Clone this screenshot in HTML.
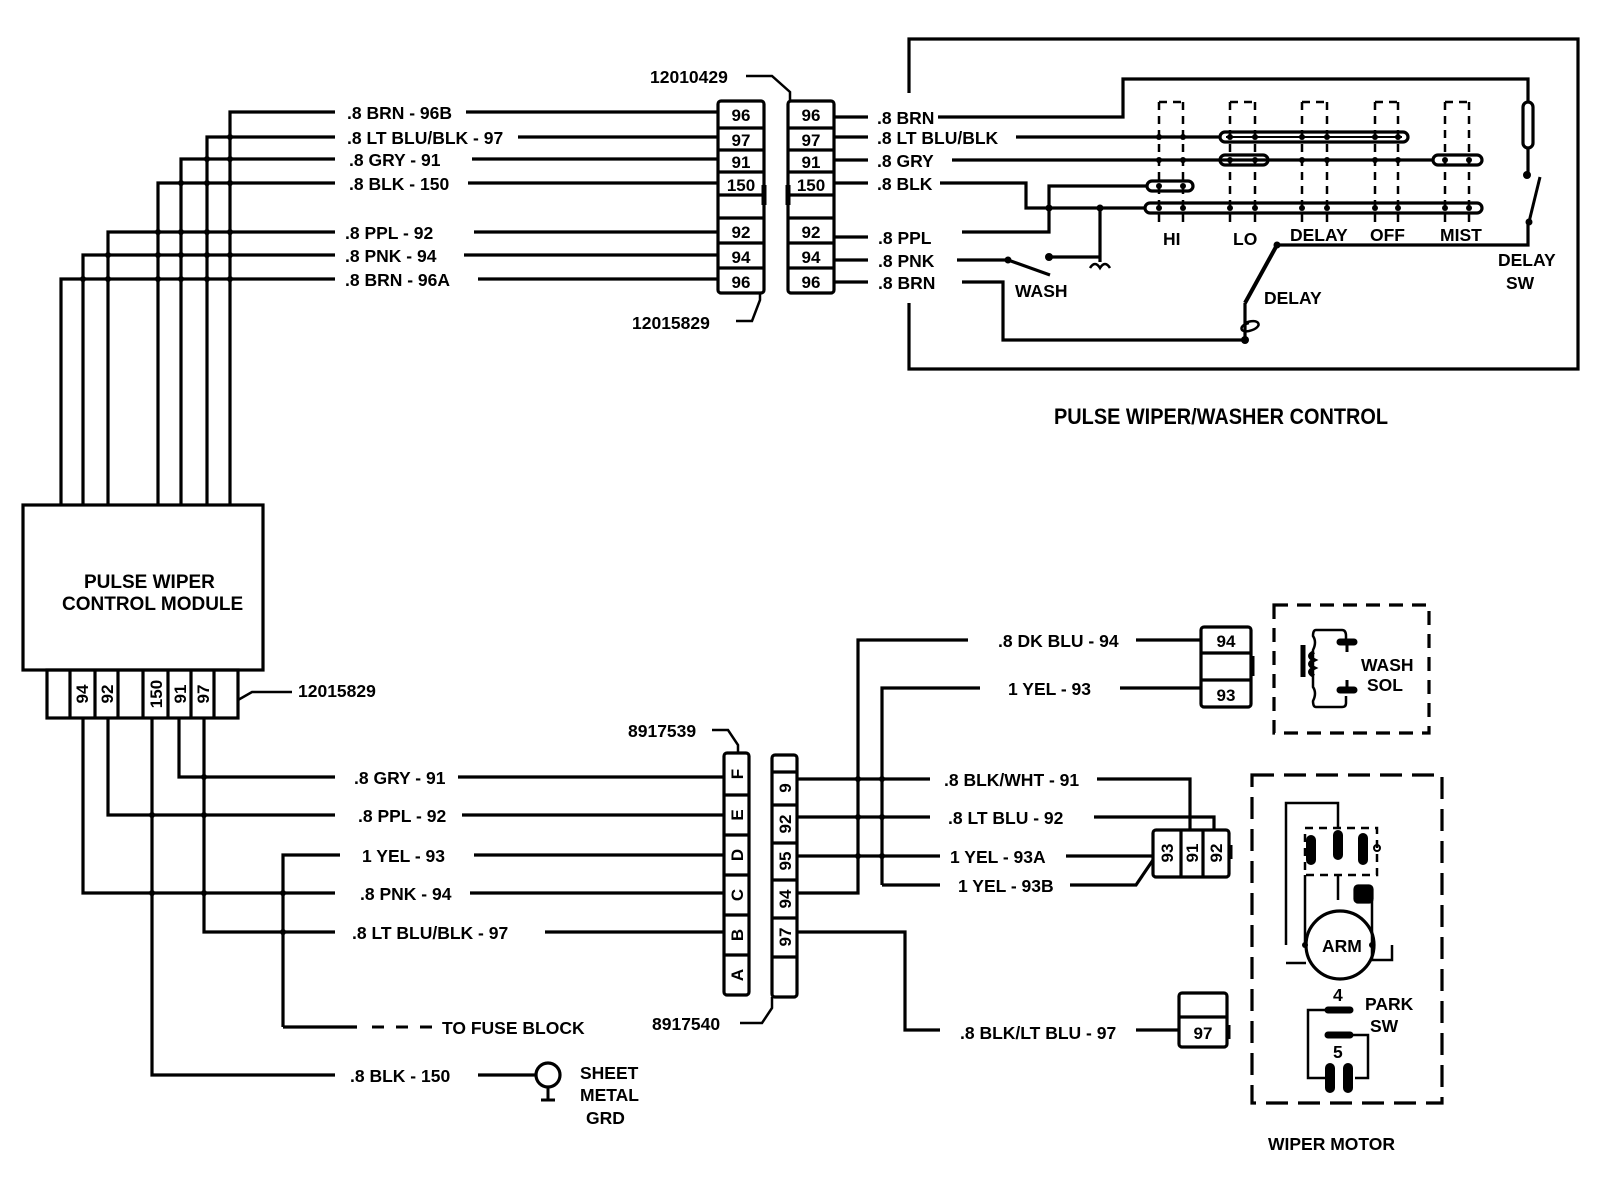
<!DOCTYPE html>
<html><head><meta charset="utf-8"><style>
html,body{margin:0;padding:0;background:#fff}
svg{display:block}
text{font-family:"Liberation Sans",sans-serif;font-weight:bold;fill:#000}
</style></head><body>
<svg width="1600" height="1196" viewBox="0 0 1600 1196" xmlns="http://www.w3.org/2000/svg">
<g fill="none" stroke="#000" stroke-width="3.2" stroke-linejoin="miter">
<path d="M230 505V112H335 M207 505V137H335 M181 505V159H335 M158 505V183H335 M108 505V232H335 M83 505V255H335 M61 505V279H335"/>
<path d="M466 112H718 M518 137H718 M472 159H718 M468 183H718 M474 232H718 M464 255H718 M478 279H718"/>
<rect x="718" y="101" width="46" height="192" rx="3"/>
<path d="M718 128H764 M718 150H764 M718 172H764 M718 195H764 M718 218H764 M718 243H764 M718 268H764"/>
<path d="M764 185v20" stroke-width="5"/>
<rect x="788" y="101" width="46" height="192" rx="3"/>
<path d="M788 128H834 M788 150H834 M788 172H834 M788 195H834 M788 218H834 M788 243H834 M788 268H834"/>
<path d="M788 185v20" stroke-width="5"/>
<path d="M746 76H772L790 92V101 M736 321H752L760 300V293" stroke-width="2.5"/>
<path d="M834 117H868 M834 137H868 M834 160H868 M834 183H868 M834 237H868 M834 260H868 M834 282H868"/>
<path d="M909 93V39H1578V369H909V303"/>
<path d="M938 117H1123V79H1528V102 M1528 148V175 M1528 222V245H1277 M1245 303V340"/>
<rect x="1523" y="102" width="10" height="46" rx="5"/>
<path d="M1540 177L1529 222" stroke-width="3"/>
<path d="M1277 245L1245 303" stroke-width="4"/>
<path d="M1245 323c14 -6 20 4 4 8c-10 2 -10 -6 0 -8" stroke-width="2.5"/>
<path d="M962 282H1003V340H1245"/>
<path d="M1016 137H1220"/>
<rect x="1220" y="132" width="188" height="10" rx="5"/>
<path d="M1226 137H1402" stroke-width="2"/>
<path d="M952 160H1433"/>
<rect x="1220" y="155" width="48" height="10" rx="5"/>
<rect x="1433" y="155" width="49" height="10" rx="5"/>
<path d="M940 183H1026V208H1145 M1049 208V186H1147 M1049 186V232H962"/>
<rect x="1147" y="181" width="46" height="10" rx="5"/>
<rect x="1145" y="203" width="337" height="10" rx="5"/>
<path d="M1100 208V262 M1049 257H1100"/>
<path d="M1090 268q5 -8 10 0q5 -8 10 0" stroke-width="2.5"/>
<path d="M957 260H1008L1050 275"/>
<g stroke-dasharray="8,6" stroke-width="2.5">
<path d="M1159 102V222 M1183 102V222 M1230 102V222 M1255 102V222 M1302 102V222 M1327 102V222 M1375 102V222 M1398 102V222 M1445 102V222 M1469 102V222"/>
<path d="M1159 102H1183 M1230 102H1255 M1302 102H1327 M1375 102H1398 M1445 102H1469"/>
</g>
<rect x="23" y="505" width="240" height="165"/>
<rect x="47" y="670" width="191" height="48"/>
<path d="M70 670V718 M95 670V718 M118 670V718 M143 670V718 M168 670V718 M191 670V718 M214 670V718"/>
<path d="M238 700L252 692H292" stroke-width="2.5"/>
<path d="M83 718V893H335 M108 718V815H335 M152 718V1075H335 M179 718V777H335 M204 718V932H335 M283 1027V855H340"/>
<path d="M283 1027H357" />
<path d="M372 1027h12 M396 1027h12 M420 1027h12" stroke-width="3"/>
<path d="M458 777H724 M462 815H724 M474 855H724 M470 893H724 M545 932H724"/>
<path d="M478 1075H536"/>
<circle cx="548" cy="1075" r="12"/>
<path d="M548 1087V1100 M541 1100H555" stroke-width="3"/>
<rect x="724" y="753" width="25" height="242" rx="3"/>
<path d="M724 795H749 M724 835H749 M724 875H749 M724 915H749 M724 955H749"/>
<rect x="772" y="755" width="25" height="242" rx="3"/>
<path d="M772 772H797 M772 805H797 M772 843H797 M772 880H797 M772 918H797 M772 957H797"/>
<path d="M712 730H728L738 745V753 M740 1023H762L772 1008V997" stroke-width="2.5"/>
<path d="M797 779H930 M797 817H930 M797 856H940 M797 893H858V640H968 M882 885V688H980 M882 885H940 M797 932H905V1030H940"/>
<path d="M1097 779H1190V830 M1094 817H1214V830 M1066 856H1153 M1070 885H1136L1153 860"/>
<path d="M1136 640H1201 M1120 688H1201 M1136 1030H1179"/>
<rect x="1201" y="627" width="50" height="80" rx="3"/>
<path d="M1201 653H1251 M1201 680H1251"/>
<path d="M1252 656v20" stroke-width="5"/>
<rect x="1153" y="830" width="76" height="47" rx="3"/>
<path d="M1181 830V877 M1203 830V877"/>
<path d="M1230 845v14" stroke-width="5"/>
<rect x="1179" y="993" width="48" height="54" rx="3"/>
<path d="M1179 1017H1227"/>
<path d="M1228 1025v14" stroke-width="5"/>
<rect x="1274" y="605" width="155" height="128" stroke-dasharray="14,9"/>
<path d="M1316 630H1342q4 0 4 6V642 M1346 696V703q0 4 -4 4H1316q-3 0 -3 -6q4 -8 0 -14V650q4 -8 0 -14q0 -6 3 -6" stroke-width="2.5"/>
<path d="M1303 645V677" stroke-width="5"/>
<path d="M1314 652q-8 4 0 8q-8 4 0 8q-8 4 0 8" stroke-width="4"/>
<path d="M1340 642h14 M1340 690h14" stroke-width="7" stroke-linecap="round"/>
<path d="M1347 642v10 M1347 680v10" stroke-width="3"/>
<rect x="1252" y="775" width="190" height="328" stroke-dasharray="22,10"/>
<path d="M1286 945V803H1338V828 M1338 875V900 M1372 900V960H1392V945 M1305 875V945" stroke-width="2.5"/>
<rect x="1305" y="828" width="72" height="47" stroke-dasharray="8,6" stroke-width="2.5"/>
<circle cx="1377" cy="848" r="3" stroke-width="2"/>
<circle cx="1340" cy="945" r="34"/>
<path d="M1311 840v20 M1338 835v20 M1363 838v22" stroke-width="10" stroke-linecap="round"/>
<rect x="1355" y="886" width="17" height="16" rx="3" fill="#000"/>
<path d="M1306 963h-20M1340 1010H1308V1078H1325 M1343 1035H1368V1078H1355" stroke-width="2.5"/>
<path d="M1328 1010h22 M1328 1035h22" stroke-width="7" stroke-linecap="round"/>
<path d="M1330 1068v20 M1348 1068v20" stroke-width="10" stroke-linecap="round"/>
</g>
<g fill="#000">
<circle cx="230" cy="137" r="3"/><circle cx="230" cy="159" r="3"/><circle cx="207" cy="159" r="3"/>
<circle cx="230" cy="183" r="3"/><circle cx="207" cy="183" r="3"/><circle cx="181" cy="183" r="3"/>
<circle cx="230" cy="232" r="3"/><circle cx="207" cy="232" r="3"/><circle cx="181" cy="232" r="3"/><circle cx="158" cy="232" r="3"/>
<circle cx="230" cy="255" r="3"/><circle cx="207" cy="255" r="3"/><circle cx="181" cy="255" r="3"/><circle cx="158" cy="255" r="3"/><circle cx="108" cy="255" r="3"/>
<circle cx="230" cy="279" r="3"/><circle cx="207" cy="279" r="3"/><circle cx="181" cy="279" r="3"/><circle cx="158" cy="279" r="3"/><circle cx="108" cy="279" r="3"/><circle cx="83" cy="279" r="3"/>
<circle cx="204" cy="777" r="3"/><circle cx="152" cy="815" r="3"/><circle cx="204" cy="815" r="3"/>
<circle cx="152" cy="893" r="3"/><circle cx="204" cy="893" r="3"/><circle cx="283" cy="893" r="3"/><circle cx="283" cy="932" r="3"/>
<circle cx="858" cy="779" r="3"/><circle cx="882" cy="779" r="3"/><circle cx="858" cy="817" r="3"/><circle cx="882" cy="817" r="3"/><circle cx="858" cy="856" r="3"/><circle cx="882" cy="856" r="3"/>
<circle cx="1049" cy="208" r="3.5"/><circle cx="1100" cy="208" r="3.5"/><circle cx="1049" cy="257" r="4"/><circle cx="1008" cy="260" r="3.5"/>
<circle cx="1527" cy="175" r="4"/><circle cx="1529" cy="222" r="3.5"/><circle cx="1245" cy="340" r="4"/><circle cx="1277" cy="245" r="3.5"/>
<circle cx="1159" cy="137" r="3"/><circle cx="1183" cy="137" r="3"/><circle cx="1230" cy="137" r="3"/><circle cx="1255" cy="137" r="3"/><circle cx="1302" cy="137" r="3"/><circle cx="1327" cy="137" r="3"/><circle cx="1375" cy="137" r="3"/><circle cx="1398" cy="137" r="3"/>
<circle cx="1159" cy="160" r="3"/><circle cx="1183" cy="160" r="3"/><circle cx="1230" cy="160" r="3"/><circle cx="1255" cy="160" r="3"/><circle cx="1302" cy="160" r="3"/><circle cx="1327" cy="160" r="3"/><circle cx="1375" cy="160" r="3"/><circle cx="1398" cy="160" r="3"/><circle cx="1445" cy="160" r="3"/><circle cx="1469" cy="160" r="3"/>
<circle cx="1159" cy="186" r="3"/><circle cx="1183" cy="186" r="3"/>
<circle cx="1159" cy="208" r="3"/><circle cx="1183" cy="208" r="3"/><circle cx="1230" cy="208" r="3"/><circle cx="1255" cy="208" r="3"/><circle cx="1302" cy="208" r="3"/><circle cx="1327" cy="208" r="3"/><circle cx="1375" cy="208" r="3"/><circle cx="1398" cy="208" r="3"/><circle cx="1445" cy="208" r="3"/><circle cx="1469" cy="208" r="3"/>
<circle cx="1305" cy="945" r="3"/><circle cx="1372" cy="945" r="3"/>
</g>
<g font-size="17.5">
<text x="347" y="119">.8 BRN - 96B</text>
<text x="347" y="144">.8 LT BLU/BLK - 97</text>
<text x="349" y="166">.8  GRY - 91</text>
<text x="349" y="190">.8 BLK - 150</text>
<text x="345" y="239">.8 PPL - 92</text>
<text x="345" y="262">.8 PNK - 94</text>
<text x="345" y="286">.8 BRN - 96A</text>
<text x="650" y="83">12010429</text>
<text x="632" y="329">12015829</text>
<text x="877" y="124">.8 BRN</text>
<text x="877" y="144">.8 LT BLU/BLK</text>
<text x="877" y="167">.8  GRY</text>
<text x="877" y="190">.8 BLK</text>
<text x="878" y="244">.8 PPL</text>
<text x="878" y="267">.8 PNK</text>
<text x="878" y="289">.8 BRN</text>
<text x="1015" y="297">WASH</text>
<text x="1264" y="304">DELAY</text>
<text x="1163" y="245">HI</text>
<text x="1233" y="245">LO</text>
<text x="1290" y="241">DELAY</text>
<text x="1370" y="241">OFF</text>
<text x="1440" y="241">MIST</text>
<text x="1498" y="266">DELAY</text>
<text x="1506" y="289">SW</text>
<text x="298" y="697">12015829</text>
<text x="628" y="737">8917539</text>
<text x="652" y="1030">8917540</text>
<text x="354" y="784">.8 GRY - 91</text>
<text x="358" y="822">.8 PPL - 92</text>
<text x="362" y="862">1 YEL - 93</text>
<text x="360" y="900">.8 PNK - 94</text>
<text x="352" y="939">.8 LT BLU/BLK - 97</text>
<text x="442" y="1034">TO FUSE BLOCK</text>
<text x="350" y="1082">.8 BLK - 150</text>
<text x="580" y="1079">SHEET</text>
<text x="580" y="1101">METAL</text>
<text x="586" y="1124">GRD</text>
<text x="998" y="647">.8 DK BLU - 94</text>
<text x="1008" y="695">1 YEL - 93</text>
<text x="944" y="786">.8 BLK/WHT - 91</text>
<text x="948" y="824">.8 LT BLU - 92</text>
<text x="950" y="863">1 YEL - 93A</text>
<text x="958" y="892">1 YEL - 93B</text>
<text x="960" y="1039">.8 BLK/LT BLU - 97</text>
<text x="1361" y="671">WASH</text>
<text x="1367" y="691">SOL</text>
<text x="1322" y="952">ARM</text>
<text x="1333" y="1001">4</text>
<text x="1333" y="1058">5</text>
<text x="1365" y="1010">PARK</text>
<text x="1370" y="1032">SW</text>
<text x="1268" y="1150">WIPER MOTOR</text>
<text x="1054" y="424" font-size="22" textLength="334" lengthAdjust="spacingAndGlyphs">PULSE WIPER/WASHER CONTROL</text>
</g>
<g font-size="19">
<text x="84" y="588">PULSE WIPER</text>
<text x="62" y="610">CONTROL MODULE</text>
</g>
<g font-size="17" text-anchor="middle">
<text x="741" y="121">96</text><text x="741" y="146">97</text><text x="741" y="168">91</text><text x="741" y="191">150</text>
<text x="741" y="238">92</text><text x="741" y="263">94</text><text x="741" y="288">96</text>
<text x="811" y="121">96</text><text x="811" y="146">97</text><text x="811" y="168">91</text><text x="811" y="191">150</text>
<text x="811" y="238">92</text><text x="811" y="263">94</text><text x="811" y="288">96</text>
<text x="1226" y="647">94</text><text x="1226" y="701">93</text><text x="1203" y="1039">97</text>
<text transform="translate(88,694) rotate(-90)">94</text>
<text transform="translate(113,694) rotate(-90)">92</text>
<text transform="translate(162,694) rotate(-90)">150</text>
<text transform="translate(186,694) rotate(-90)">91</text>
<text transform="translate(209,694) rotate(-90)">97</text>
<text transform="translate(743,774) rotate(-90)">F</text>
<text transform="translate(743,815) rotate(-90)">E</text>
<text transform="translate(743,855) rotate(-90)">D</text>
<text transform="translate(743,895) rotate(-90)">C</text>
<text transform="translate(743,935) rotate(-90)">B</text>
<text transform="translate(743,975) rotate(-90)">A</text>
<text transform="translate(791,788) rotate(-90)">9</text>
<text transform="translate(791,824) rotate(-90)">92</text>
<text transform="translate(791,861) rotate(-90)">95</text>
<text transform="translate(791,899) rotate(-90)">94</text>
<text transform="translate(791,937) rotate(-90)">97</text>
<text transform="translate(1173,853) rotate(-90)">93</text>
<text transform="translate(1198,853) rotate(-90)">91</text>
<text transform="translate(1222,853) rotate(-90)">92</text>
</g>
</svg>
</body></html>
